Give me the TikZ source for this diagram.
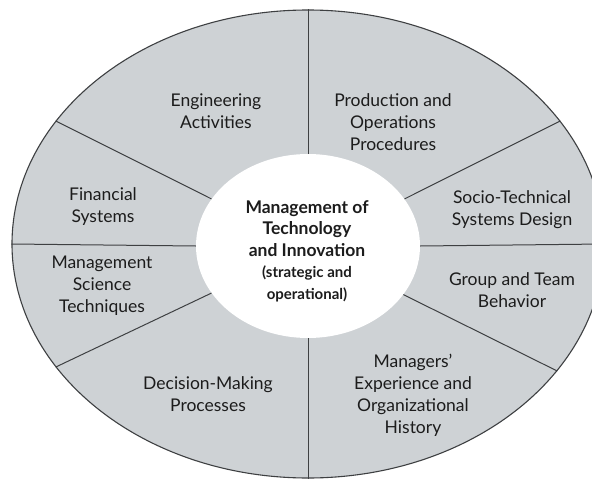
\documentclass[tikz,border=0pt]{standalone}
\usepackage{fontspec}
\setmainfont{Lato}
\usetikzlibrary{shapes.geometric}
\definecolor{ringgray}{RGB}{206,210,213}
\definecolor{rulegray}{RGB}{62,64,66}
\definecolor{ink}{RGB}{28,28,28}
\newcommand{\hubsmall}{\fontsize{15}{21}\selectfont}
\begin{document}
\begin{tikzpicture}[x=1pt,y=-1pt,
  sector/.style={align=center, text=ink, inner sep=0pt,
    font=\fontsize{17.5}{22}\selectfont},
  hubtext/.style={align=center, text=ink, inner sep=0pt,
    font=\bfseries\fontsize{17.5}{21.5}\selectfont},
  divider/.style={draw=rulegray, line width=1pt}]
\useasboundingbox (0,0) rectangle (592,479);
\clip (0,0) rectangle (592,479);
\fill[white] (0,0) rectangle (592,479);

% outer ring and white hub
\node[ellipse, draw=rulegray, line width=1.1pt, fill=ringgray,
      minimum width=592pt, minimum height=468pt, inner sep=0pt] (outer) at (308,244) {};
\node[ellipse, fill=white, minimum width=224pt, minimum height=184pt,
      inner sep=0pt] (inner) at (308,246) {};

% radial dividers between the eight sectors
\foreach \a in {0,26,90,154,180,206,270,333}
  \draw[divider] (inner.\a) -- (outer.\a);

% sector labels
\node[sector] (eng)  at (216,111) {Engineering\\Activities};
\node[sector] (prod) at (393,122) {Production and\\Operations\\Procedures};
\node[sector] (fin)  at (103,207) {Financial\\Systems};
\node[sector] (soc)  at (512,210) {Socio-Technical\\Systems Design};
\node[sector] (msci) at (102,286) {Management\\Science\\Techniques};
\node[sector] (grp)  at (512,290) {Group and Team\\Behavior};
\node[sector] (dec)  at (208,394) {Decision-Making\\Processes};
\node[sector] (mgr)  at (413,395) {Managers'\\Experience and\\Organizational\\History};

% hub label
\node[hubtext] (hub) at (307,251) {Management of\\Technology\\and Innovation\\
  \hubsmall (strategic and\\\hubsmall operational)};
\end{tikzpicture}
\end{document}
